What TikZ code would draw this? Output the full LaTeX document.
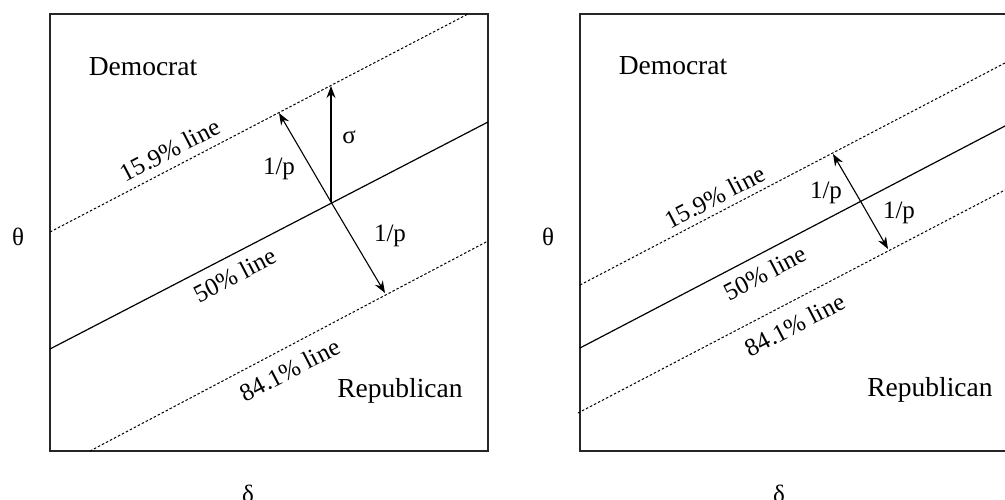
\documentclass[tikz,border=0pt]{standalone}
\usepackage{fontspec}
\setmainfont{Liberation Serif}
\usetikzlibrary{arrows.meta}
\begin{document}
\begin{tikzpicture}[x=1pt,y=1pt,
  frame/.style={line width=1.9pt, draw=black!85},
  midline/.style={line width=1.2pt},
  dotline/.style={line width=1pt, dash pattern=on 2.5pt off 2pt},
  arr/.style={line width=1.1pt, -{Stealth[length=12pt,width=9pt]}},
  lbl/.style={font=\fontsize{25}{28}\selectfont, inner sep=0pt},
  big/.style={font=\fontsize{27.5}{30}\selectfont, inner sep=0pt},
  rlbl/.style={lbl, rotate=27.5}]
\useasboundingbox (0,0) rectangle (1005,500);
\clip (0,0) rectangle (1005,500);
% ---------- left panel ----------
\draw[frame] (50,49) rectangle (488,486);
\coordinate (La1) at (50,151);  \coordinate (La2) at (488,378);
\coordinate (Lb1) at (50,268);  \coordinate (Lb2) at (468,486);
\coordinate (Lc1) at (90,49);   \coordinate (Lc2) at (488,259);
\draw[midline] (La1) -- (La2);
\draw[dotline] (Lb1) -- (Lb2);
\draw[dotline] (Lc1) -- (Lc2);
\coordinate (LC) at (331,298);
\coordinate (Ls) at (331,414);
\coordinate (Lu) at (279,387);
\coordinate (Ld) at (385,207);
\draw[arr] (LC) -- (Ls);
\draw[arr] (LC) -- (Lu);
\draw[arr] (LC) -- (Ld);
\node[big] (Ldem) at (143,433) {Democrat};
\node[big] (Lrep) at (400,109) {Republican};
\node[lbl] (Lth) at (18,263) {θ};
\node[lbl] (Lde) at (248,6) {δ};
\node[lbl] (Lsig) at (349,363) {σ};
\node[lbl] (Lp1) at (279,331) {1/p};
\node[lbl] (Lp2) at (390,264) {1/p};
\node[rlbl] (L159) at (170,350) {15.9\% line};
\node[rlbl] (L50) at (235,225) {50\% line};
\node[rlbl] (L841) at (290,130) {84.1\% line};
% ---------- right panel ----------
\draw[frame] (1015,486) -- (580,486) -- (580,49) -- (1015,49);
\coordinate (Ra1) at (580,152);  \coordinate (Ra2) at (1005,374);
\coordinate (Rb1) at (580,215);  \coordinate (Rb2) at (1005,437);
\coordinate (Rc1) at (578,87);   \coordinate (Rc2) at (1005,310);
\draw[midline] (Ra1) -- (Ra2);
\draw[dotline] (Rb1) -- (Rb2);
\draw[dotline] (Rc1) -- (Rc2);
\coordinate (RC) at (861,298);
\coordinate (Ru) at (833,346);
\coordinate (Rd) at (888,251);
\draw[arr] (RC) -- (Ru);
\draw[arr] (RC) -- (Rd);
\node[big] (Rdem) at (673,434) {Democrat};
\node[big] (Rrep) at (930,110) {Republican};
\node[lbl] (Rth) at (548,263) {θ};
\node[lbl] (Rde) at (779,6) {δ};
\node[lbl] (Rp1) at (826,307) {1/p};
\node[lbl] (Rp2) at (899,287) {1/p};
\node[rlbl] (R159) at (715,303) {15.9\% line};
\node[rlbl] (R50) at (765,227) {50\% line};
\node[rlbl] (R841) at (795,175) {84.1\% line};
\end{tikzpicture}
\end{document}
